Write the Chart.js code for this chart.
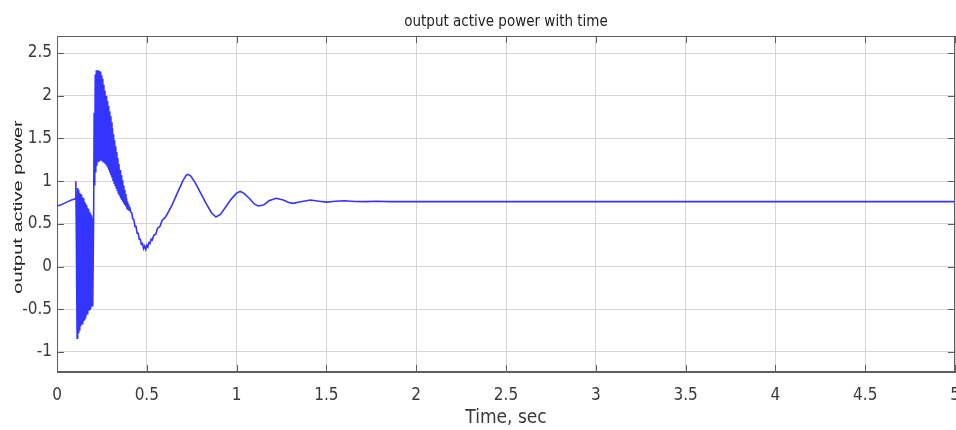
<!DOCTYPE html>
<html>
<head>
<meta charset="utf-8">
<title>output active power with time</title>
<script src="https://cdn.jsdelivr.net/npm/chart.js@4.4.1/dist/chart.umd.min.js"></script>
<style>
  html, body { margin: 0; padding: 0; background: #fff; }
  #wrap { width: 956px; height: 430px; position: relative; }
</style>
</head>
<body>
<div id="wrap"><canvas id="myChart"></canvas></div>
<script>
// tiempo (s) y potencia activa de salida, por tramos
var timeSec = [
  // antes de la falla
  0, 0.02, 0.04, 0.06, 0.08, 0.1,
  // oscilacion rapida 0.1 - 0.2 s
  0.102, 0.105, 0.108, 0.110, 0.112, 0.114, 0.116, 0.118, 0.120, 0.122,
  0.124, 0.126, 0.128, 0.130, 0.132, 0.134, 0.136, 0.138, 0.140, 0.142,
  0.144, 0.146, 0.148, 0.150, 0.152, 0.154, 0.156, 0.158, 0.160, 0.162,
  0.164, 0.166, 0.168, 0.170, 0.172, 0.174, 0.176, 0.178, 0.180, 0.182,
  0.184, 0.186, 0.188, 0.190, 0.192, 0.194, 0.196, 0.198, 0.200,
  // pico 0.2 - 0.4 s
  0.204, 0.207, 0.210, 0.213, 0.216, 0.219, 0.222, 0.225, 0.228, 0.231,
  0.234, 0.237, 0.240, 0.243, 0.246, 0.249, 0.252, 0.255, 0.258, 0.261,
  0.264, 0.267, 0.270, 0.273, 0.276, 0.279, 0.282, 0.285, 0.288, 0.291,
  0.294, 0.297, 0.300, 0.303, 0.306, 0.309, 0.312, 0.315, 0.318, 0.321,
  0.324, 0.327, 0.330, 0.333, 0.336, 0.339, 0.342, 0.345, 0.348, 0.351,
  0.354, 0.357, 0.360, 0.363, 0.366, 0.369, 0.372, 0.375, 0.378, 0.381,
  0.384, 0.387, 0.390, 0.393, 0.396, 0.399, 0.402, 0.405,
  // bajada y oscilacion amortiguada
  0.410, 0.416, 0.422, 0.428, 0.434, 0.440, 0.446, 0.452, 0.458, 0.464, 0.470,
  0.476, 0.482, 0.488, 0.494, 0.500, 0.506, 0.512, 0.518, 0.524, 0.530, 0.540,
  0.550, 0.560, 0.573, 0.585, 0.600, 0.610, 0.640, 0.670, 0.700, 0.720, 0.730,
  0.745, 0.770, 0.800, 0.830, 0.860, 0.885, 0.910, 0.940, 0.970, 1.000, 1.020,
  1.040, 1.070, 1.100, 1.120, 1.150, 1.180, 1.220, 1.260, 1.290, 1.315, 1.350,
  1.410, 1.460, 1.500, 1.550, 1.600, 1.660, 1.720, 1.780, 1.850, 2.000, 2.500,
  3.000, 3.500, 4.000, 4.500, 5.000
];

var activePower = [
  0.71, 0.72, 0.74, 0.76, 0.78, 0.79,
  0.80, 1.00, 0.30, -0.30, -0.84, 0.92, -0.80, 0.90, -0.78, 0.88,
  -0.74, 0.86, -0.72, 0.85, -0.70, 0.84, -0.68, 0.82, -0.67, 0.81,
  -0.66, 0.80, -0.64, 0.78, -0.62, 0.76, -0.60, 0.74, -0.58, 0.72,
  -0.57, 0.70, -0.55, 0.69, -0.53, 0.67, -0.52, 0.65, -0.50, 0.64,
  -0.49, 0.62, -0.48, 0.60, -0.47, 0.59, -0.46, 0.57, -0.45,
  0.60, 1.80, 0.95, 2.25, 1.10, 2.30, 1.18, 2.30, 1.22, 2.30,
  1.24, 2.29, 1.25, 2.28, 1.25, 2.24, 1.24, 2.20, 1.23, 2.13,
  1.22, 2.06, 1.20, 2.00, 1.18, 1.94, 1.16, 1.88, 1.13, 1.82,
  1.10, 1.76, 1.07, 1.69, 1.04, 1.62, 1.01, 1.55, 0.98, 1.48,
  0.95, 1.41, 0.92, 1.34, 0.89, 1.27, 0.86, 1.20, 0.83, 1.13,
  0.80, 1.07, 0.78, 1.01, 0.76, 0.95, 0.74, 0.90, 0.72, 0.85,
  0.70, 0.80, 0.68, 0.76, 0.67, 0.73, 0.66, 0.70,
  0.64, 0.63, 0.56, 0.55, 0.47, 0.47, 0.39, 0.39, 0.32, 0.32, 0.26,
  0.27, 0.21, 0.24, 0.20, 0.25, 0.23, 0.28, 0.27, 0.32, 0.31, 0.37,
  0.38, 0.45, 0.47, 0.54, 0.57, 0.60, 0.72, 0.86, 1.00, 1.07, 1.08,
  1.06, 0.98, 0.86, 0.74, 0.63, 0.58, 0.61, 0.70, 0.79, 0.86, 0.88,
  0.86, 0.80, 0.73, 0.71, 0.72, 0.77, 0.80, 0.78, 0.75, 0.74, 0.755,
  0.78, 0.765, 0.755, 0.765, 0.77, 0.762, 0.76, 0.765, 0.76, 0.76, 0.76,
  0.76, 0.76, 0.76, 0.76, 0.76
];

var xTicks = [0, 0.5, 1, 1.5, 2, 2.5, 3, 3.5, 4, 4.5, 5];
var yTicks = [-1, -0.5, 0, 0.5, 1, 1.5, 2, 2.5];

var puntos = timeSec.map(function (t, i) {
  return { x: t, y: activePower[i] };
});

var fuente = '"DejaVu Sans Condensed", "Liberation Sans", sans-serif';
var colorTexto = '#3a3a3a';
var colorEje = '#5e5e5e';
var tituloY = 'output active power';

// caja completa, marcas hacia adentro y titulo del eje y (angosto)
var cajaEjes = {
  id: 'cajaEjes',
  afterDatasetsDraw: function (chart) {
    var ctx = chart.ctx;
    var a = chart.chartArea;
    var sx = chart.scales.x;
    var sy = chart.scales.y;
    var largo = 7;
    ctx.save();
    ctx.strokeStyle = colorEje;
    ctx.lineWidth = 1;
    ctx.beginPath();
    xTicks.forEach(function (v) {
      var px = Math.round(sx.getPixelForValue(v)) + 0.5;
      ctx.moveTo(px, a.bottom);
      ctx.lineTo(px, a.bottom - largo);
      ctx.moveTo(px, a.top);
      ctx.lineTo(px, a.top + largo);
    });
    yTicks.forEach(function (v) {
      var py = Math.round(sy.getPixelForValue(v)) + 0.5;
      ctx.moveTo(a.left, py);
      ctx.lineTo(a.left + largo, py);
      ctx.moveTo(a.right, py);
      ctx.lineTo(a.right - largo, py);
    });
    ctx.stroke();
    ctx.strokeRect(a.left + 0.5, a.top + 0.5, a.right - a.left - 1, a.bottom - a.top - 1);

    // titulo vertical
    ctx.translate(18.5, (a.top + a.bottom) / 2 + 3);
    ctx.rotate(-Math.PI / 2);
    ctx.scale(1, 0.62);
    ctx.fillStyle = '#222';
    ctx.font = '20px "Liberation Sans", Arial, sans-serif';
    ctx.textAlign = 'center';
    ctx.textBaseline = 'middle';
    ctx.fillText(tituloY, 0, 0);
    ctx.restore();
  }
};

var ctx = document.getElementById('myChart');
var myChart = new Chart(ctx, {
  type: 'scatter',
  data: {
    datasets: [{
      label: 'output active power',
      data: puntos,
      showLine: true,
      borderColor: '#3434ff',
      borderWidth: 1.6,
      pointRadius: 0,
      tension: 0
    }]
  },
  options: {
    responsive: true,
    maintainAspectRatio: false,
    animation: false,
    layout: { padding: { left: 0, right: 1, top: 0, bottom: 0 } },
    plugins: {
      legend: { display: false },
      tooltip: { enabled: false },
      title: {
        display: true,
        fullSize: false,
        text: 'output active power with time',
        color: '#222',
        font: { family: fuente, size: 15, weight: 'normal', lineHeight: 1 },
        padding: { top: 14.5, bottom: 6.5 }
      }
    },
    scales: {
      x: {
        type: 'linear',
        min: 0,
        max: 5,
        afterBuildTicks: function (scale) {
          scale.ticks = xTicks.map(function (v) { return { value: v }; });
        },
        afterFit: function (scale) {
          scale.height = 58;
          scale.paddingLeft = 0;
          scale.paddingRight = 0;
        },
        ticks: {
          color: colorTexto,
          font: { family: fuente, size: 17 },
          padding: 13,
          maxRotation: 0,
          autoSkip: false,
          callback: function (v) { return String(v); }
        },
        grid: { color: '#d6d6d6', drawTicks: false, lineWidth: 1 },
        border: { display: true, color: colorEje },
        title: {
          display: true,
          text: 'Time, sec',
          color: colorTexto,
          font: { family: fuente, size: 19, lineHeight: 1 },
          padding: { top: 0, bottom: 2.5 }
        }
      },
      y: {
        type: 'linear',
        min: -1.235,
        max: 2.7,
        afterBuildTicks: function (scale) {
          scale.ticks = yTicks.map(function (v) { return { value: v }; });
        },
        afterFit: function (scale) {
          scale.width = 57;
          scale.paddingTop = 0;
          scale.paddingBottom = 0;
        },
        ticks: {
          color: colorTexto,
          font: { family: fuente, size: 17 },
          padding: 5,
          autoSkip: false,
          callback: function (v) { return String(v); }
        },
        grid: { color: '#d6d6d6', drawTicks: false, lineWidth: 1 },
        border: { display: true, color: colorEje },
        title: { display: false }
      }
    }
  },
  plugins: [cajaEjes]
});
</script>
</body>
</html>
